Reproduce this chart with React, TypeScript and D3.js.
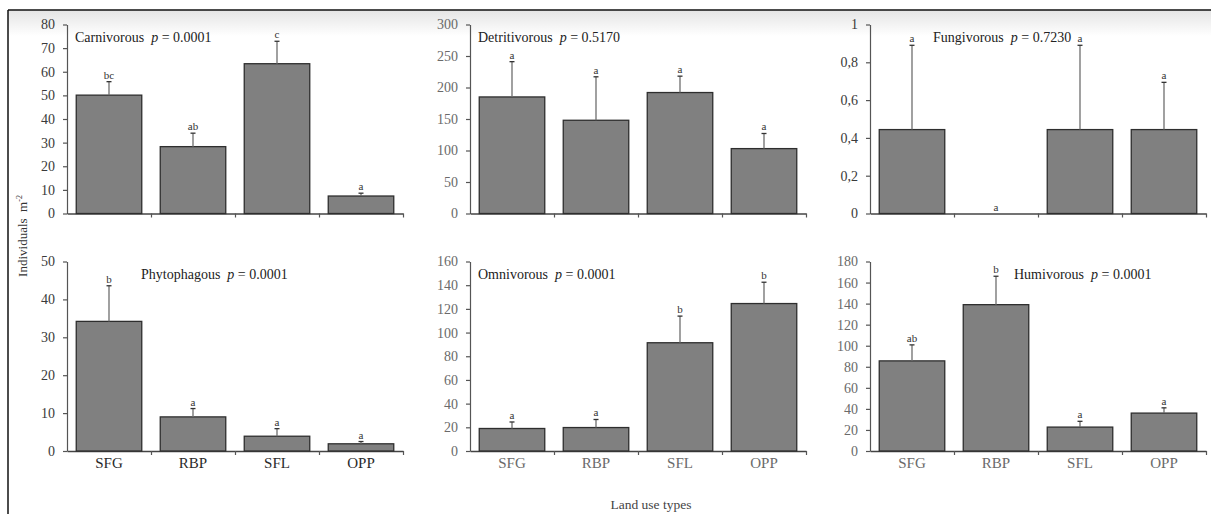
import React, { useEffect, useRef } from 'react';
import * as d3 from 'd3';

const categories = ['SFG', 'RBP', 'SFL', 'OPP'];

// means and standard errors
const carnivorousMean = [50.1, 28.3, 63.4, 7.4];
const carnivorousSE = [5.7, 5.7, 9.5, 1.2];
const carnivorousLetters = ['bc', 'ab', 'c', 'a'];

const detritivorousMean = [185, 148, 192, 103];
const detritivorousSE = [56, 69, 26, 24];
const detritivorousLetters = ['a', 'a', 'a', 'a'];

const fungivorousMean = [0.444, 0, 0.444, 0.444];
const fungivorousSE = [0.446, 0, 0.446, 0.25];
const fungivorousLetters = ['a', 'a', 'a', 'a'];

const phytophagousMean = [34.2, 9, 3.9, 1.9];
const phytophagousSE = [9.4, 2.2, 2, 0.6];
const phytophagousLetters = ['b', 'a', 'a', 'a'];

const omnivorousMean = [19, 19.8, 91.4, 124.5];
const omnivorousSE = [5.5, 6.8, 22.5, 18];
const omnivorousLetters = ['a', 'a', 'b', 'b'];

const humivorousMean = [85.6, 139, 22.7, 36];
const humivorousSE = [15.2, 27, 5.5, 5];
const humivorousLetters = ['ab', 'b', 'a', 'a'];

const panels = [
  { name: 'Carnivorous', p: '0.0001', mean: carnivorousMean, se: carnivorousSE, letters: carnivorousLetters, max: 80, step: 10, col: 0, row: 0, titleX: 75, dark: true },
  { name: 'Detritivorous', p: '0.5170', mean: detritivorousMean, se: detritivorousSE, letters: detritivorousLetters, max: 300, step: 50, col: 1, row: 0, titleX: 478, dark: false },
  { name: 'Fungivorous', p: '0.7230', mean: fungivorousMean, se: fungivorousSE, letters: fungivorousLetters, max: 1, step: 0.2, col: 2, row: 0, titleX: 933, dark: true },
  { name: 'Phytophagous', p: '0.0001', mean: phytophagousMean, se: phytophagousSE, letters: phytophagousLetters, max: 50, step: 10, col: 0, row: 1, titleX: 141, dark: true },
  { name: 'Omnivorous', p: '0.0001', mean: omnivorousMean, se: omnivorousSE, letters: omnivorousLetters, max: 160, step: 20, col: 1, row: 1, titleX: 478, dark: false },
  { name: 'Humivorous', p: '0.0001', mean: humivorousMean, se: humivorousSE, letters: humivorousLetters, max: 180, step: 20, col: 2, row: 1, titleX: 1014, dark: false },
];

const colX = [67, 470, 870];
const plotW = 336;
const rowTop = [24.5, 261.5];
const rowBottom = [213.5, 451];
const font = '"Liberation Serif", "Times New Roman", serif';

const App = () => {
  const ref = useRef<SVGSVGElement>(null);

  useEffect(() => {
    const svg = d3.select(ref.current);
    svg.selectAll('*').remove();

    const grad = svg.append('defs').append('linearGradient')
      .attr('id', 'topfade').attr('x1', 0).attr('x2', 0).attr('y1', 0).attr('y2', 1);
    grad.append('stop').attr('offset', '0%').attr('stop-color', '#e4e4e4');
    grad.append('stop').attr('offset', '100%').attr('stop-color', '#ffffff');

    svg.append('rect').attr('x', 8).attr('y', 10).attr('width', 1203).attr('height', 26).attr('fill', 'url(#topfade)');
    svg.append('line').attr('x1', 8).attr('x2', 1211).attr('y1', 10).attr('y2', 10).attr('stroke', '#111').attr('stroke-width', 1.5);
    svg.append('line').attr('x1', 8).attr('x2', 8).attr('y1', 10).attr('y2', 514).attr('stroke', '#111').attr('stroke-width', 1.5);

    panels.forEach((pn) => {
      const x0 = colX[pn.col];
      const top = rowTop[pn.row];
      const bottom = rowBottom[pn.row];
      const tickColor = pn.dark ? '#3a3a3a' : '#6a6a6a';

      const x = d3.scaleBand().domain(categories).range([x0, x0 + plotW]).paddingInner(0.22).paddingOuter(0.11);
      const y = d3.scaleLinear().domain([0, pn.max]).range([bottom, top]);
      const g = svg.append('g');

      const yAxis = d3.axisLeft(y)
        .tickValues(d3.range(0, pn.max + pn.step / 2, pn.step))
        .tickSizeInner(4)
        .tickSizeOuter(0)
        .tickPadding(8)
        .tickFormat((d) => (pn.step < 1 ? d3.format('.1f')(+d).replace('.', ',').replace(/^1,0$/, '1').replace(/^0,0$/, '0') : String(d)));
      const ya = g.append('g').attr('transform', `translate(${x0},0)`).call(yAxis);
      ya.select('.domain').attr('stroke', '#555').attr('stroke-width', 1.2);
      ya.selectAll('.tick line').attr('stroke', '#555').attr('stroke-width', 1.2);
      ya.selectAll('.tick text').attr('fill', tickColor).attr('font-family', font).attr('font-size', 14);

      const xl = d3.scaleLinear().domain([0, 4]).range([x0, x0 + plotW]);
      const xAxis = d3.axisBottom(xl).tickValues([1, 2, 3, 4]).tickSizeInner(4).tickSizeOuter(0).tickFormat(() => '');
      const xa = g.append('g').attr('transform', `translate(0,${bottom})`).call(xAxis);
      xa.select('.domain').attr('stroke', '#444').attr('stroke-width', 1.5);
      xa.selectAll('.tick line').attr('stroke', '#555').attr('stroke-width', 1.2);

      const rows = categories.map((c, i) => ({ c, m: pn.mean[i], se: pn.se[i], l: pn.letters[i] }));

      g.selectAll('.bar').data(rows.filter((d) => d.m > 0)).enter().append('rect')
        .attr('x', (d) => x(d.c)!)
        .attr('width', x.bandwidth())
        .attr('y', (d) => y(d.m))
        .attr('height', (d) => bottom - y(d.m))
        .attr('fill', '#808080')
        .attr('stroke', '#2e2e2e')
        .attr('stroke-width', 1.3);

      const cx = (d: { c: string }) => x(d.c)! + x.bandwidth() / 2;
      const err = rows.filter((d) => d.se > 0);
      g.selectAll('.err').data(err).enter().append('line')
        .attr('x1', cx).attr('x2', cx)
        .attr('y1', (d) => y(d.m)).attr('y2', (d) => y(d.m + d.se))
        .attr('stroke', '#6e6e6e').attr('stroke-width', 1.3);
      g.selectAll('.cap').data(err).enter().append('line')
        .attr('x1', (d) => cx(d) - 2.5).attr('x2', (d) => cx(d) + 2.5)
        .attr('y1', (d) => y(d.m + d.se)).attr('y2', (d) => y(d.m + d.se))
        .attr('stroke', '#333').attr('stroke-width', 1.3);

      g.selectAll('.letter').data(rows).enter().append('text')
        .attr('x', cx)
        .attr('y', (d) => y(d.m + d.se) - 3)
        .attr('text-anchor', 'middle')
        .attr('font-family', font)
        .attr('font-size', 11)
        .attr('fill', '#333')
        .text((d) => d.l);

      const t = g.append('text')
        .attr('x', pn.titleX)
        .attr('y', top + 17)
        .attr('font-family', font)
        .attr('font-size', 14)
        .attr('fill', '#222')
        .style('white-space', 'pre');
      t.append('tspan').text(`${pn.name}  `);
      t.append('tspan').attr('font-style', 'italic').text('p');
      t.append('tspan').text(` = ${pn.p}`);

      if (pn.row === 1) {
        g.selectAll('.cat').data(categories).enter().append('text')
          .attr('x', (d) => x(d)! + x.bandwidth() / 2)
          .attr('y', bottom + 17)
          .attr('text-anchor', 'middle')
          .attr('font-family', font)
          .attr('font-size', 15)
          .attr('fill', pn.dark ? '#2a2a2a' : '#6a6a6a')
          .text((d) => d);
      }
    });

    const yl = svg.append('text')
      .attr('transform', 'translate(27,236) rotate(-90)')
      .attr('text-anchor', 'middle')
      .attr('font-family', font)
      .attr('font-size', 13)
      .attr('fill', '#333')
      .style('white-space', 'pre');
    yl.append('tspan').text('Individuals  m');
    yl.append('tspan').attr('font-size', 8).attr('dy', -5).text('-2');

    svg.append('text')
      .attr('x', 651)
      .attr('y', 509)
      .attr('text-anchor', 'middle')
      .attr('font-family', font)
      .attr('font-size', 13.5)
      .attr('fill', '#444')
      .text('Land use types');
  }, []);

  return (
    <svg
      ref={ref}
      width={1211}
      height={514}
      style={{ position: 'absolute', left: 0, top: 0, background: '#fff' }}
    />
  );
};

export default App;
